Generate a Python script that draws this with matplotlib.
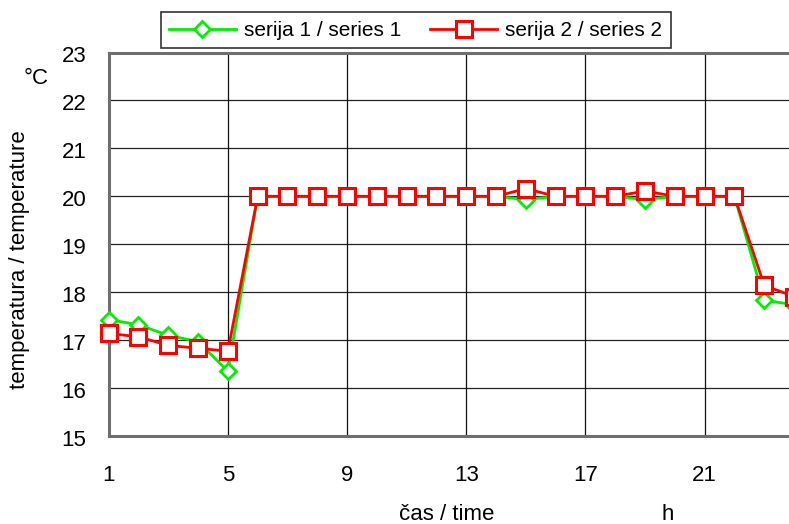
import matplotlib
matplotlib.use("Agg")
import matplotlib.pyplot as plt
from matplotlib.lines import Line2D
from matplotlib.transforms import ScaledTranslation

plt.rcParams['font.family'] = ['Liberation Sans', 'DejaVu Sans']

hours = list(range(1, 25))
series1 = [17.43, 17.32, 17.10, 16.97, 16.35, 20.0, 20.0, 20.0, 20.0, 20.0, 20.0, 20.0,
           20.0, 20.0, 19.93, 20.0, 20.0, 20.0, 19.93, 20.0, 20.0, 20.0, 17.83, 17.74]
series2 = [17.14, 17.07, 16.89, 16.83, 16.77, 20.0, 20.0, 20.0, 20.0, 20.0, 20.0, 20.0,
           20.0, 20.0, 20.16, 20.0, 20.0, 20.0, 20.11, 20.0, 20.0, 20.0, 18.14, 17.91]
xticks = [1, 5, 9, 13, 17, 21]
yticks = [15, 16, 17, 18, 19, 20, 21, 22, 23]
label1 = "serija 1 / series 1"
label2 = "serija 2 / series 2"

W, H = 789, 524
fig = plt.figure(figsize=(W / 100, H / 100), dpi=100)
left, bottom, top = 108.7 / W, 1 - 436 / H, 1 - 52.5 / H
ax = fig.add_axes([left, bottom, 1.0 - left, top - bottom])

ax.set_xlim(1, 23.83)
ax.set_ylim(15, 23)

for yv in yticks:
    ax.axhline(yv, color='#222222', lw=0.9, zorder=1)
for xv in xticks[1:]:
    ax.axvline(xv, color='#111111', lw=0.9, zorder=1)

ax.plot(hours, series1, color='#00ee00', lw=2, marker='D', markersize=7.8,
        markerfacecolor='white', markeredgecolor='#00ee00', markeredgewidth=2,
        clip_on=False, zorder=3, label=label1)
ax.plot(hours, series2, color='#ff0000', lw=2, marker='s', markersize=11.5,
        markerfacecolor='white', markeredgecolor='#ff0000', markeredgewidth=2.2,
        clip_on=False, zorder=4, label=label2)

ax.set_xticks(xticks)
ax.set_yticks(yticks)
ax.tick_params(axis='both', length=0, labelsize=16)
ax.tick_params(axis='x', pad=21)
ax.tick_params(axis='y', pad=16)
ax.set_yticklabels([str(v) for v in yticks], va='center')
off = ScaledTranslation(0, -4 / 100, fig.dpi_scale_trans)
for lbl in ax.get_yticklabels():
    lbl.set_transform(lbl.get_transform() + off)

ax.spines['right'].set_visible(False)
for s in ['left', 'bottom', 'top']:
    ax.spines[s].set_color('#6e6e6e')
    ax.spines[s].set_linewidth(2.2)
    ax.spines[s].set_zorder(2)

fig.text(20 / W, 1 - 260 / H, "temperatura / temperature", rotation=90,
         ha='center', va='center', fontsize=16)
fig.text(36 / W, 1 - 78 / H, "°C", ha='center', va='center', fontsize=16)
fig.text(447 / W, 1 - 515 / H, "čas / time", ha='center', va='center', fontsize=16)
fig.text(668 / W, 1 - 515 / H, "h", ha='center', va='center', fontsize=16)

handles = [
    Line2D([], [], color='#00ee00', lw=2, marker='D', markersize=7.8,
           markerfacecolor='white', markeredgecolor='#00ee00', markeredgewidth=2),
    Line2D([], [], color='#ff0000', lw=2, marker='s', markersize=11,
           markerfacecolor='white', markeredgecolor='#ff0000', markeredgewidth=2.2),
]
leg = fig.legend(handles, [label1, label2], ncol=2, loc='center',
                 bbox_to_anchor=((156.5 + 675) / 2 / W, 1 - 30.3 / H),
                 frameon=True, fancybox=False, edgecolor='black', fontsize=15,
                 handlelength=3.2, columnspacing=1.4, handletextpad=0.4,
                 borderpad=0.4)
leg.get_frame().set_linewidth(1.2)

fig.savefig("out.png", dpi=100)
